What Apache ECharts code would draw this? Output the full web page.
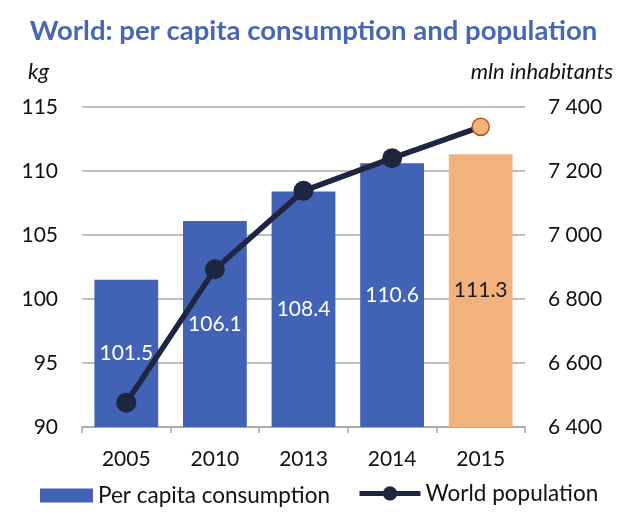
<!DOCTYPE html>
<html>
<head>
<meta charset="utf-8">
<script src="https://cdn.jsdelivr.net/npm/echarts@6/dist/echarts.min.js"></script>
<style>
html,body{margin:0;padding:0;background:#fff;}
#chart{width:627px;height:527px;}
</style>
</head>
<body>
<div id="chart"></div>
<script>
const categories = ['2005', '2010', '2013', '2014', '2015'];
const consumption = [101.5, 106.1, 108.4, 110.6, 111.3];
const population = [6476, 6893, 7138, 7240, 7338];
const leftTicks = [90, 115, 5];
const rightTicks = [6400, 7400, 200];

const FONT = 'Lato';
const BLUE = '#4262B6';
const ORANGE = '#F2B27E';
const NAVY = '#1E2540';
const last = categories.length - 1;

const chart = echarts.init(document.getElementById('chart'));
chart.setOption({
  animation: false,
  textStyle: { fontFamily: FONT },
  title: {
    text: 'World: per capita consumption and population',
    left: 'center', top: 12,
    textStyle: { fontFamily: FONT, fontSize: 27.5, fontWeight: 'bold', color: '#4767B5' }
  },
  graphic: [
    { type: 'text', left: 28, top: 61, style: { text: 'kg', font: 'italic 22px ' + FONT, fill: '#111' } },
    { type: 'text', right: 14, top: 61, style: { text: 'mln inhabitants', font: 'italic 22px ' + FONT, fill: '#111' } }
  ],
  legend: [
    {
      data: [{ name: 'Per capita consumption', icon: 'rect' }],
      left: 40, top: 484, padding: 0, itemWidth: 53, itemHeight: 14, itemGap: 5,
      textStyle: { fontFamily: FONT, fontSize: 22.5, color: '#111' }
    },
    {
      data: ['World population'],
      left: 357, top: 482, padding: 0, itemWidth: 61, itemHeight: 18,
      lineStyle: { width: 5 },
      textStyle: { fontFamily: FONT, fontSize: 22.5, color: '#111' }
    }
  ],
  grid: { left: 82, right: 102, top: 107, height: 320 },
  xAxis: {
    type: 'category', data: categories,
    axisLine: { lineStyle: { color: '#A6A6A6', width: 1.5 } },
    axisTick: { show: true, length: 6, lineStyle: { color: '#A6A6A6', width: 1.5 } },
    axisLabel: { fontFamily: FONT, fontSize: 21, color: '#111', margin: 22 }
  },
  yAxis: [
    {
      type: 'value', min: leftTicks[0], max: leftTicks[1], interval: leftTicks[2],
      axisLine: { show: false }, axisTick: { show: false },
      splitLine: { lineStyle: { color: '#BFBFBF', width: 2 } },
      axisLabel: { fontFamily: FONT, fontSize: 21, color: '#111', margin: 24 }
    },
    {
      type: 'value', min: rightTicks[0], max: rightTicks[1], interval: rightTicks[2],
      axisLine: { show: false }, axisTick: { show: false }, splitLine: { show: false },
      axisLabel: {
        fontFamily: FONT, fontSize: 21, color: '#111', margin: 23,
        formatter: v => String(v).replace(/\B(?=(\d{3})+(?!\d))/g, ' ')
      }
    }
  ],
  series: [
    {
      name: 'Per capita consumption', type: 'bar', yAxisIndex: 0,
      barWidth: '72%',
      itemStyle: { color: BLUE },
      label: { show: true, position: 'inside', fontFamily: FONT, fontSize: 21, color: '#fff',
               formatter: p => p.value.toFixed(1) },
      data: consumption.map((v, i) => i === last
        ? { value: v, itemStyle: { color: ORANGE }, label: { color: '#1a1a1a' } }
        : v)
    },
    {
      name: 'World population', type: 'line', yAxisIndex: 1, z: 5,
      symbol: 'circle', symbolSize: 20,
      lineStyle: { color: NAVY, width: 5.5 },
      itemStyle: { color: NAVY },
      data: population.map((v, i) => i === last
        ? { value: v, symbolSize: 17, itemStyle: { color: ORANGE, borderColor: '#B8541A', borderWidth: 1.5 } }
        : v)
    }
  ]
});
</script>
</body>
</html>
